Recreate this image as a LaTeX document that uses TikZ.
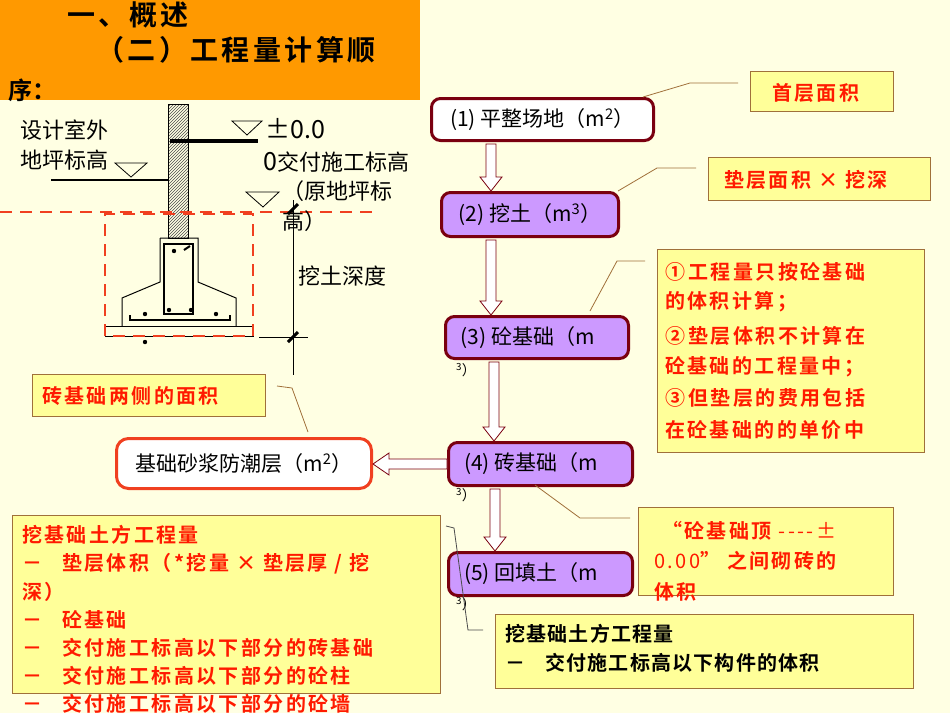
\documentclass[tikz,border=0pt]{standalone}
\usepackage{fontspec}
\setmainfont{Noto Sans CJK SC}[BoldFont={Noto Sans CJK SC Bold}]
\usetikzlibrary{patterns,calc}
\definecolor{bgc}{HTML}{FFFFE3}
\definecolor{org}{HTML}{FF9900}
\definecolor{dred}{HTML}{7A0010}
\definecolor{purp}{HTML}{CC99FF}
\definecolor{cally}{HTML}{FFFF99}
\definecolor{calb}{HTML}{A0703A}
\definecolor{rtxt}{HTML}{FF1A00}
\definecolor{dash}{HTML}{F04020}
\tikzset{
 flow/.style={draw=dred,line width=3pt,rounded corners=9pt,fill=purp,anchor=north west,inner sep=0pt,font=\fontsize{21}{21}\selectfont},
 callbox/.style={draw=calb,line width=0.8pt,fill=cally},
 rt/.style={text=rtxt,font=\bfseries\fontsize{20}{20}\selectfont\addfontfeature{LetterSpace=12},anchor=west,inner sep=0pt},
 bt/.style={text=black,font=\bfseries\fontsize{20}{20}\selectfont\addfontfeature{LetterSpace=6},anchor=west,inner sep=0pt},
 lt/.style={font=\fontsize{22}{22}\selectfont,anchor=west,inner sep=0pt},
 hol/.style={draw=dred,fill=white,line width=0.8pt},
 lead/.style={draw=calb,line width=0.8pt},
 tri/.style={draw=black,line width=0.8pt},
 rdash/.style={draw=dash,line width=2.5pt,dash pattern=on 12pt off 8pt}
}
\begin{document}
\begin{tikzpicture}[x=1pt,y=-1pt]
\fill[bgc] (0,0) rectangle (950,713);
\useasboundingbox (0,0) rectangle (950,713);
% title
\fill[org] (0,0) rectangle (420,100);
\node[font=\bfseries\fontsize{28}{28}\selectfont\addfontfeature{LetterSpace=10}] (t1) at (128,15) {一、概述};
\node[font=\bfseries\fontsize{28}{28}\selectfont\addfontfeature{LetterSpace=12}] (t2) at (236,50) {（二）工程量计算顺};
\node[font=\bfseries\fontsize{24}{24}\selectfont,anchor=west,inner sep=0pt] (t3) at (8,90) {序：};
% foundation drawing
\draw[pattern=north east lines,pattern color=black!70,line width=0.6pt] (168,104) rectangle (188,238);
\draw[line width=3.5pt] (170,141) -- (258,141);
\draw[line width=2pt] (51,180) -- (168,180);
\draw[tri] (232,121) -- (262,121) -- (247,135) -- cycle;
\draw[tri] (115,163) -- (147,163) -- (131,177) -- cycle;
\draw[tri] (246,192) -- (279,192) -- (263,207) -- cycle;
\draw[line width=1pt] (160,238) -- (198,238) -- (198,282) -- (236,298) -- (236,326);
\draw[line width=1pt] (160,238) -- (160,282) -- (122,298) -- (122,326);
\draw[line width=0.8pt] (105,326) rectangle (253,336);
\draw[line width=2pt] (164,244) rectangle (193,314);
\draw[line width=2pt] (130,315) -- (130,320) -- (230,320) -- (230,315);
\foreach \p in {(174,251),(145,314),(169,310),(191,310),(216,314)} \fill \p circle (2.2pt);
\draw[line width=2pt] (184,250) -- (190,246);
\fill (145,342) circle (2.2pt);
\draw[rdash] (0,212) -- (378,212);
\draw[rdash] (105,336) -- (105,214) -- (253,214) -- (253,336) -- cycle;
\draw[line width=0.6pt] (293,200) -- (293,375);
\draw[line width=0.6pt] (259,337) -- (308,337);
\draw[line width=3pt] (288,214) -- (298,204);
\draw[line width=3pt] (288,342) -- (298,332);
\node[lt] (l1) at (20,130) {设计室外};
\node[lt] (l2) at (20,160) {地坪标高};
\node[lt,font=\fontsize{25}{25}\selectfont] (l3) at (265,129) {±0.0};
\node[lt] (l4) at (263,162) {{\fontsize{25}{25}\selectfont 0}交付施工标高};
\node[lt] (l5) at (282,191) {（原地坪标};
\node[lt] (l6) at (282,221) {高）};
\node[lt] (l7) at (298,276) {挖土深度};
% flow nodes
\node[flow,fill=white,minimum width=222pt,minimum height=42pt] (n1) at (430,97) {(1) 平整场地（m\textsuperscript{2}）};
\node[flow,minimum width=177pt,minimum height=44pt] (n2) at (440,191) {(2) 挖土（m\textsuperscript{3}）};
\node[flow,minimum width=183pt,minimum height=42pt] (n3) at (444,315) {(3) 砼基础（m\phantom{3)}};
\node[flow,minimum width=184pt,minimum height=43pt] (n4) at (447,441) {(4) 砖基础（m\phantom{3)}};
\node[flow,minimum width=184pt,minimum height=43pt] (n5) at (447,551) {(5) 回填土（m\phantom{3)}};
\node[flow,draw=dash,fill=white,minimum width=255pt,minimum height=50pt,rounded corners=12pt] (nb) at (115,437) {基础砂浆防潮层（m\textsuperscript{2}）};
\foreach \n/\yy in {3/370,4/495,5/604} \node[font=\fontsize{14}{14}\selectfont] (s\n) at (466,\yy) {\textsuperscript{3}）};
% hollow arrows
\foreach \a/\b/\ax in {n1/n2/491,n2/n3/491,n3/n4/494,n4/n5/495}{
 \path let \p1=(\a.south), \p2=(\b.north) in
  [hol] (\ax pt-5pt,\y1-2pt) -- (\ax pt-5pt,\y2+14pt) -- (\ax pt-11pt,\y2+14pt) -- (\ax pt,\y2) -- (\ax pt+11pt,\y2+14pt) -- (\ax pt+5pt,\y2+14pt) -- (\ax pt+5pt,\y1-2pt) -- cycle;}
\path let \p1=(n4.west), \p2=(nb.east) in
 [hol] (\x1,\y1-5pt) -- (\x2+16pt,\y1-5pt) -- (\x2+16pt,\y1-11pt) -- (\x2,\y1) -- (\x2+16pt,\y1+11pt) -- (\x2+16pt,\y1+5pt) -- (\x1,\y1+5pt) -- cycle;
% callouts
\draw[callbox] (750,71) rectangle (893,111);
\node[rt] (c1) at (772,93) {首层面积};
\draw[lead] (n1.north east) ++(-12,0) -- (690,83) -- (738,83);
\draw[callbox] (708,157) rectangle (930,200);
\node[rt] (c2) at (724,180) {垫层面积 × 挖深};
\draw[lead] (618,191) -- (657,168) -- (696,168);
\draw[callbox] (657,249) rectangle (924,452);
\node[rt] (c3a) at (665,272) {①\,工程量只按砼基础};
\node[rt] (c3b) at (665,302) {的体积计算；};
\node[rt] (c3c) at (665,336) {②\,垫层体积不计算在};
\node[rt] (c3d) at (665,367) {砼基础的工程量中；};
\node[rt] (c3e) at (665,398) {③\,但垫层的费用包括};
\node[rt] (c3f) at (665,430) {在砼基础的的单价中};
\draw[lead] (590,311) -- (617,261) -- (645,261);
\draw[callbox] (32,374) rectangle (265,416);
\node[rt] (c4) at (42,396) {砖基础两侧的面积};
\draw[lead] (308,432) -- (292,388) -- (277,386);
\draw[callbox] (638,507) rectangle (893,595);
\node[rt] (c5a) at (662,531) {“砼基础顶 {\mdseries {-}{-}{-}{-}±}};
\node[rt] (c5b) at (654,561) {{\mdseries 0.00}” 之间砌砖的};
\node[rt] (c5c) at (654,592) {体积};
\draw[lead] (535,485) -- (580,518) -- (630,518);
\draw[callbox] (12,515) rectangle (440,693);
\node[rt] (d1) at (22,535) {挖基础土方工程量};
\node[rt] (d2) at (22,564) {－\quad 垫层体积（*挖量 × 垫层厚 / 挖};
\node[rt] (d3) at (22,592) {深）};
\node[rt] (d4) at (22,620) {－\quad 砼基础};
\node[rt] (d5) at (22,648) {－\quad 交付施工标高以下部分的砖基础};
\node[rt] (d6) at (22,676) {－\quad 交付施工标高以下部分的砼柱};
\node[rt] (d7) at (22,704) {－\quad 交付施工标高以下部分的砼墙};
\draw[callbox] (495,614) rectangle (913,688);
\node[bt] (e1) at (505,634) {挖基础土方工程量};
\node[bt] (e2) at (505,663) {－\quad 交付施工标高以下构件的体积};
\draw[lead,draw=black!70] (446,526) -- (454,528) -- (468,630) -- (483,630);
\end{tikzpicture}
\end{document}
